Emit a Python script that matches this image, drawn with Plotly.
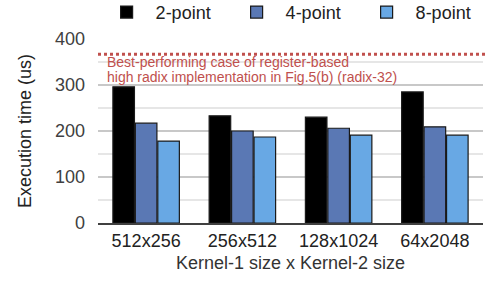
import plotly.graph_objects as go

categories = ["512x256", "256x512", "128x1024", "64x2048"]
two_point = [296, 233, 230, 285]
four_point = [217, 200, 206, 209]
eight_point = [178, 187, 191, 191]
ref_value = 367
series_names = ["2-point", "4-point", "8-point"]
colors = ["#000000", "#5a78b4", "#68a8e4"]
note_lines = ["Best-performing case of register-based",
              "high radix implementation in Fig.5(b) (radix-32)"]
note_y = [351, 318]

FONT = "Liberation Sans, Arial"
fig = go.Figure()
for name, vals, c in zip(series_names, [two_point, four_point, eight_point], colors):
    fig.add_trace(go.Bar(x=categories, y=vals, name=name,
                         marker=dict(color=c, line=dict(color="#1a1a1a", width=1.2))))

fig.add_shape(type="line", xref="paper", x0=0, x1=1.02, yref="y", y0=ref_value, y1=ref_value,
              line=dict(color="#c0504d", width=3, dash="dot"))
for txt, yy in zip(note_lines, note_y):
    fig.add_annotation(xref="paper", x=0.018, yref="y", y=yy, xanchor="left", yanchor="middle",
                       text=txt, showarrow=False,
                       font=dict(family=FONT, size=14, color="#c0504d"))

fig.update_layout(
    width=487, height=281,
    margin=dict(l=98, r=4, t=39, b=58, autoexpand=False),
    plot_bgcolor="white", paper_bgcolor="white",
    barmode="group", bargap=0.3, bargroupgap=0.04,
    font=dict(family=FONT, size=18, color="#404040"),
    legend=dict(orientation="h", xref="paper", x=-0.001, xanchor="left",
                yref="paper", y=1.245, yanchor="top", bgcolor="rgba(0,0,0,0)",
                font=dict(size=18, color="#222222"), entrywidth=67, entrywidthmode="pixels",
                itemwidth=48, tracegroupgap=0),
    showlegend=True,
)
fig.update_xaxes(showgrid=False, showline=True, linecolor="#404040", linewidth=2,
                 tickfont=dict(size=18, color="#222222"), ticks="",
                 title=dict(text="Kernel-1 size x Kernel-2 size", font=dict(size=18, color="#333333"), standoff=7))
fig.update_yaxes(range=[0, 400], dtick=100, showgrid=True, gridcolor="#c8c8c8", gridwidth=2,
                 minor=dict(dtick=50, showgrid=True, gridcolor="#e6e6e6", gridwidth=2),
                 zeroline=False, showline=False, tickfont=dict(size=18, color="#404040"), ticks="",
                 ticklabelstandoff=12,
                 title=dict(text="Execution time (us)", font=dict(size=18, color="#222222"), standoff=18))

fig.write_html("out.html", config={"displayModeBar": False},
               post_script="document.body.style.margin='0';")
